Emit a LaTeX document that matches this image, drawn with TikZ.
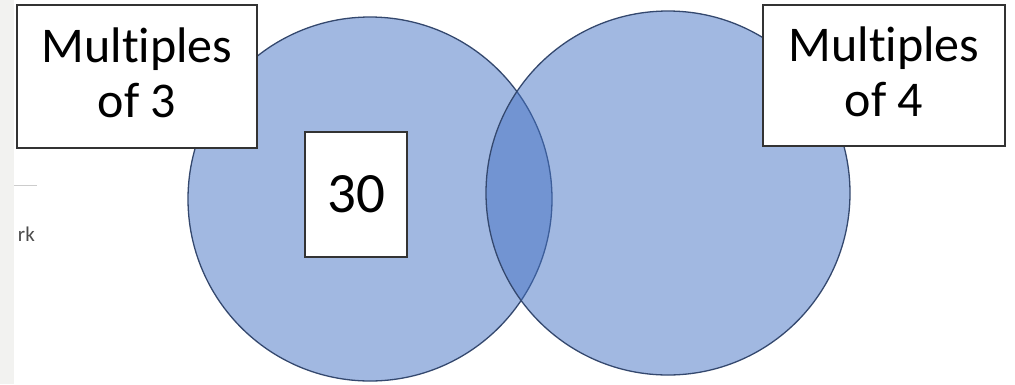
\documentclass[tikz,border=0pt]{standalone}
\usepackage{fontspec}
\setmainfont[Ligatures=CommonOff]{Carlito}
\definecolor{setblue}{RGB}{68,114,196}
\definecolor{setedge}{RGB}{52,72,110}
\definecolor{pagegray}{RGB}{242,242,240}

\begin{document}
\begin{tikzpicture}[
        x=1pt, y=-1pt,
        setcircle/.style = {circle, draw=setedge, line width=1.3pt, fill=setblue, fill opacity=0.5, draw opacity=1, minimum size=364pt, inner sep=0pt},
        labelbox/.style = {rectangle, draw=black!80, line width=1.3pt, fill=white, align=center, inner sep=0pt, font=\fontsize{50}{55}\selectfont}
    ]
    \useasboundingbox (0,0) rectangle (1015,384);
    \fill[white] (0,0) rectangle (1015,384);
    % bits of the page behind
    \node[black!70, anchor=base east, inner sep=0pt, font=\fontsize{21}{24}\selectfont] (pagetext) at (35,241) {rk};
    \draw[black!20, line width=1pt] (14,185) -- (37,185);
    \fill[pagegray] (0,0) rectangle (14,384);
    % the two sets
    \node[setcircle] (multthree) at (370,199) {};
    \node[setcircle] (multfour) at (668,193) {};
    % labels
    \node[labelbox, minimum width=240pt, minimum height=143pt] (labelthree) at (137,76.5) {Multiples\\of 3\vphantom{p}};
    \node[labelbox, minimum width=242pt, minimum height=141pt] (labelfour) at (884,75.5) {Multiples\\of 4\vphantom{p}};
    \node[labelbox, minimum width=102pt, minimum height=125pt, font=\fontsize{57}{60}\selectfont] (thirty) at (356,194.5) {30};
\end{tikzpicture}
\end{document}
